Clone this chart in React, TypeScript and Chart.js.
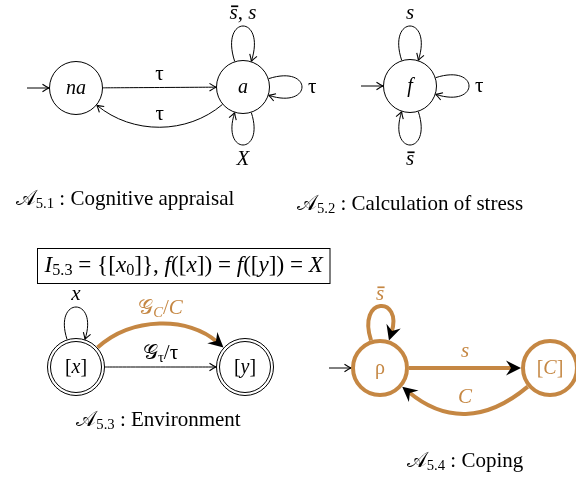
import React, { useEffect, useRef } from "react";
import { Chart, registerables } from "chart.js";
Chart.register(...registerables);

const W = 576;
const H = 479;
const ORANGE = "rgb(197,135,67)";
const FONT = '"Liberation Serif", "DejaVu Serif", serif';

// ---- nodes (diagram coordinates) ----
const nodeNames = ["na", "a", "f", "[x]", "[y]", "ρ", "[C]"];
const nodeX = [76, 243, 410, 76, 245, 380, 550];
const nodeY = [88, 87, 86, 367, 367, 368, 368];
const nodeText = ["*na*", "*a*", "*f*", "[*x*]", "[*y*]", "ρ", "[*C*]"];
const nodeKind = ["plain", "plain", "plain", "accepting", "accepting", "coping", "coping"];
const initialNodes = ["na", "f", "ρ"];

// ---- edges ----
const edgeFrom = ["na", "a", "a", "a", "a", "f", "f", "f", "[x]", "[x]", "[x]", "ρ", "ρ", "[C]"];
const edgeTo = ["a", "na", "a", "a", "a", "f", "f", "f", "[x]", "[y]", "[y]", "ρ", "[C]", "ρ"];
const edgeLabel = ["τ", "τ", "\\bar{s}, *s*", "τ", "*X*", "*s*", "τ", "\\bar{s}", "*x*", "𝒢_{τ}/τ", "𝒢_{*C*}/*C*", "\\bar{s}", "*s*", "*C*"];
const edgeShape = ["straight", "bend", "loop", "loop", "loop", "loop", "loop", "loop", "loop", "straight", "bend", "loop", "straight", "bend"];
const edgeAngle = [0, 40, 90, 0, -90, 90, 0, -90, 90, 0, 42, 90, 0, 40];
const edgeLoose = [0, 0.37, 34, 32, 31, 33, 32, 32, 31, 0, 0.37, 32, 0, 0.44];
const edgeKind = ["thin", "thin", "thin", "thin", "thin", "thin", "thin", "thin", "thin", "thin", "coping", "coping", "coping", "coping"];

// ---- texts ----
const boxText = "*I*_{5.3} = {[*x*_{0}]}, *f*([*x*]) = *f*([*y*]) = *X*";
const captionText = [
  "𝒜_{5.1} : Cognitive appraisal",
  "𝒜_{5.2} : Calculation of stress",
  "𝒜_{5.3} : Environment",
  "𝒜_{5.4} : Coping",
];
const captionX = [125, 410, 158.5, 465];
const captionY = [199, 204, 420, 461];
const boxRect = [37.5, 248.5, 330, 283.5];

const LOOP_SPREAD = 18;
const LABEL_SIZE = 21;
const NODE_SIZE = 20;
const CAPTION_SIZE = 21;

type Run = { text: string; italic: boolean; sub: boolean; bar: boolean };
function parseRich(s: string): Run[] {
  const runs: Run[] = [];
  let italic = false, sub = false, buf = "";
  const flush = () => { if (buf) { runs.push({ text: buf, italic, sub, bar: false }); buf = ""; } };
  for (let i = 0; i < s.length;) {
    if (s.startsWith("\\bar{", i)) {
      flush();
      const end = s.indexOf("}", i);
      runs.push({ text: s.slice(i + 5, end), italic: true, sub, bar: true });
      i = end + 1;
      continue;
    }
    const ch = s[i];
    if (ch === "*") { flush(); italic = !italic; i++; continue; }
    if (ch === "_" && s[i + 1] === "{") { flush(); sub = true; i += 2; continue; }
    if (ch === "}" && sub) { flush(); sub = false; i++; continue; }
    const c = String.fromCodePoint(s.codePointAt(i)!);
    buf += c;
    i += c.length;
  }
  flush();
  return runs;
}

function runFont(r: Run, size: number) {
  const sz = r.sub ? size * 0.7 : size;
  return `${r.italic ? "italic " : ""}${sz}px ${FONT}`;
}

function richWidth(ctx: CanvasRenderingContext2D, s: string, size: number) {
  let w = 0;
  for (const r of parseRich(s)) { ctx.font = runFont(r, size); w += ctx.measureText(r.text).width; }
  return w;
}

function drawRich(ctx: CanvasRenderingContext2D, s: string, x: number, y: number, size: number, color: string, align: "center" | "left" = "center", fitWidth = 0) {
  const runs = parseRich(s);
  if (fitWidth > 0) size = size * fitWidth / richWidth(ctx, s, size);
  const w = richWidth(ctx, s, size);
  let cx = align === "center" ? x - w / 2 : x;
  const base = y + size * 0.3;
  ctx.save();
  ctx.fillStyle = color;
  ctx.strokeStyle = color;
  ctx.textAlign = "left";
  ctx.textBaseline = "alphabetic";
  for (const r of runs) {
    ctx.font = runFont(r, size);
    const rw = ctx.measureText(r.text).width;
    const by = r.sub ? base + size * 0.15 : base;
    ctx.fillText(r.text, cx, by);
    if (r.bar) {
      ctx.lineWidth = 1.7;
      ctx.beginPath();
      ctx.moveTo(cx + 1.5, by - size * 0.62);
      ctx.lineTo(cx + rw + 0.5, by - size * 0.62);
      ctx.stroke();
    }
    cx += rw;
  }
  ctx.restore();
}

const dir = (deg: number) => [Math.cos((deg * Math.PI) / 180), -Math.sin((deg * Math.PI) / 180)];
const boundR = (k: string) => (k === "accepting" ? 29 : k === "coping" ? 29 : 27);

function bez(p: number[][], t: number) {
  const m = 1 - t;
  const a = m * m * m, b = 3 * m * m * t, c = 3 * m * t * t, d = t * t * t;
  return [a * p[0][0] + b * p[1][0] + c * p[2][0] + d * p[3][0], a * p[0][1] + b * p[1][1] + c * p[2][1] + d * p[3][1]];
}

function toArrow(ctx: CanvasRenderingContext2D, tip: number[], u: number[]) {
  const n = [-u[1], u[0]];
  const L = 6.5, Wd = 3.8;
  ctx.save();
  ctx.strokeStyle = "#000";
  ctx.lineWidth = 1.1;
  ctx.beginPath();
  for (const s of [1, -1]) {
    ctx.moveTo(tip[0] - L * u[0] + s * Wd * n[0], tip[1] - L * u[1] + s * Wd * n[1]);
    ctx.quadraticCurveTo(tip[0] - 2 * u[0] + s * 0.8 * n[0], tip[1] - 2 * u[1] + s * 0.8 * n[1], tip[0], tip[1]);
  }
  ctx.stroke();
  ctx.restore();
}

function stealth(ctx: CanvasRenderingContext2D, tip: number[], u: number[]) {
  const n = [-u[1], u[0]];
  const L = 15, Wd = 7.5, notch = 10;
  ctx.save();
  ctx.fillStyle = "#000";
  ctx.beginPath();
  ctx.moveTo(tip[0], tip[1]);
  ctx.lineTo(tip[0] - L * u[0] + Wd * n[0], tip[1] - L * u[1] + Wd * n[1]);
  ctx.lineTo(tip[0] - notch * u[0], tip[1] - notch * u[1]);
  ctx.lineTo(tip[0] - L * u[0] - Wd * n[0], tip[1] - L * u[1] - Wd * n[1]);
  ctx.closePath();
  ctx.fill();
  ctx.restore();
}

const diagramPlugin = {
  id: "automata",
  afterDatasetsDraw(chart: any) {
    const ctx: CanvasRenderingContext2D = chart.ctx;
    const sx = chart.scales.x, sy = chart.scales.y;
    const P = (i: number) => [sx.getPixelForValue(nodeX[i]), sy.getPixelForValue(nodeY[i])];

    // inner circles of accepting states
    nodeKind.forEach((k, i) => {
      if (k !== "accepting") return;
      const [cx, cy] = P(i);
      ctx.save();
      ctx.strokeStyle = "#000";
      ctx.lineWidth = 1;
      ctx.beginPath();
      ctx.arc(cx, cy, 25.5, 0, Math.PI * 2);
      ctx.stroke();
      ctx.restore();
    });

    // initial arrows
    initialNodes.forEach((name) => {
      const i = nodeNames.indexOf(name);
      const [cx, cy] = P(i);
      const R = boundR(nodeKind[i]);
      ctx.save();
      ctx.strokeStyle = "#000";
      ctx.lineWidth = 1;
      ctx.beginPath();
      ctx.moveTo(cx - R - 22, cy);
      ctx.lineTo(cx - R, cy);
      ctx.stroke();
      ctx.restore();
      toArrow(ctx, [cx - R, cy], [1, 0]);
    });

    // edges
    edgeFrom.forEach((from, e) => {
      const i = nodeNames.indexOf(from), j = nodeNames.indexOf(edgeTo[e]);
      const ci = P(i), cj = P(j);
      const Ri = boundR(nodeKind[i]), Rj = boundR(nodeKind[j]);
      const shape = edgeShape[e];
      let pts: number[][];
      if (shape === "loop") {
        const phi = edgeAngle[e];
        const sp = LOOP_SPREAD;
        const o = dir(phi + sp), n = dir(phi - sp);
        const p0 = [ci[0] + Ri * o[0], ci[1] + Ri * o[1]];
        const p3 = [ci[0] + Ri * n[0], ci[1] + Ri * n[1]];
        const cs = Math.cos((sp * Math.PI) / 180);
        const L = (edgeLoose[e] + Ri * (1 - cs)) / (0.75 * cs);
        pts = [p0, [p0[0] + L * o[0], p0[1] + L * o[1]], [p3[0] + L * n[0], p3[1] + L * n[1]], p3];
      } else {
        const th = (Math.atan2(-(cj[1] - ci[1]), cj[0] - ci[0]) * 180) / Math.PI;
        const b = shape === "bend" ? edgeAngle[e] : 0;
        const o = dir(th + b), n = dir(th + 180 - b);
        const p0 = [ci[0] + Ri * o[0], ci[1] + Ri * o[1]];
        const p3 = [cj[0] + Rj * n[0], cj[1] + Rj * n[1]];
        const d = Math.hypot(p3[0] - p0[0], p3[1] - p0[1]);
        const k = shape === "bend" ? edgeLoose[e] : 0;
        pts = [p0, [p0[0] + k * d * o[0], p0[1] + k * d * o[1]], [p3[0] + k * d * n[0], p3[1] + k * d * n[1]], p3];
      }
      const thick = edgeKind[e] === "coping";
      let tx = pts[3][0] - pts[2][0], ty = pts[3][1] - pts[2][1];
      if (Math.hypot(tx, ty) < 1e-6) { tx = pts[3][0] - pts[0][0]; ty = pts[3][1] - pts[0][1]; }
      const len = Math.hypot(tx, ty);
      const u = [tx / len, ty / len];

      ctx.save();
      ctx.strokeStyle = thick ? ORANGE : "#000";
      ctx.lineWidth = thick ? 4 : 1;
      ctx.beginPath();
      ctx.moveTo(pts[0][0], pts[0][1]);
      const end = thick ? [pts[3][0] - 8 * u[0], pts[3][1] - 8 * u[1]] : pts[3];
      ctx.bezierCurveTo(pts[1][0], pts[1][1], pts[2][0], pts[2][1], end[0], end[1]);
      ctx.stroke();
      ctx.restore();
      if (thick) stealth(ctx, pts[3], u); else toArrow(ctx, pts[3], u);

      // label
      const mid = bez(pts, 0.5);
      const color = thick ? ORANGE : "#000";
      if (shape === "loop") {
        const phi = edgeAngle[e];
        if (phi === 90) drawRich(ctx, edgeLabel[e], mid[0], mid[1] - 13, LABEL_SIZE, color);
        else if (phi === -90) drawRich(ctx, edgeLabel[e], mid[0], mid[1] + 14, LABEL_SIZE, color);
        else drawRich(ctx, edgeLabel[e], mid[0] + 6, mid[1], LABEL_SIZE, color, "left");
      } else {
        drawRich(ctx, edgeLabel[e], mid[0], mid[1] - (thick ? 17 : 14), LABEL_SIZE, color);
      }
    });

    // node labels
    nodeText.forEach((t, i) => {
      const [cx, cy] = P(i);
      drawRich(ctx, t, cx, cy, NODE_SIZE, nodeKind[i] === "coping" ? ORANGE : "#000");
    });

    // formula box
    const [x0, y0, x1, y1] = boxRect;
    const bx0 = sx.getPixelForValue(x0), by0 = sy.getPixelForValue(y0);
    const bx1 = sx.getPixelForValue(x1), by1 = sy.getPixelForValue(y1);
    ctx.save();
    ctx.strokeStyle = "#000";
    ctx.lineWidth = 1;
    ctx.strokeRect(bx0, by0, bx1 - bx0, by1 - by0);
    ctx.restore();
    drawRich(ctx, boxText, (bx0 + bx1) / 2, (by0 + by1) / 2 - 1, 20, "#000", "center", bx1 - bx0 - 14);

    // captions
    captionText.forEach((t, i) => {
      drawRich(ctx, t, sx.getPixelForValue(captionX[i]), sy.getPixelForValue(captionY[i]), CAPTION_SIZE, "#000");
    });
  },
};

export default function App() {
  const ref = useRef<HTMLCanvasElement>(null);
  useEffect(() => {
    if (!ref.current) return;
    const radius = nodeKind.map((k) => (k === "accepting" ? 28.5 : k === "coping" ? 27 : 26.5));
    const chart = new Chart(ref.current, {
      type: "scatter",
      data: {
        datasets: [
          {
            data: nodeX.map((x, i) => ({ x, y: nodeY[i] })),
            pointRadius: radius,
            pointHoverRadius: radius,
            pointBorderWidth: nodeKind.map((k) => (k === "coping" ? 4 : 1)),
            pointBorderColor: nodeKind.map((k) => (k === "coping" ? ORANGE : "#000")),
            pointBackgroundColor: "#fff",
            showLine: false,
            clip: false as any,
          },
        ],
      },
      options: {
        responsive: false,
        animation: false,
        events: [],
        layout: { padding: 0, autoPadding: false },
        scales: {
          x: { type: "linear", min: 0, max: W, display: false },
          y: { type: "linear", min: 0, max: H, reverse: true, display: false },
        },
        plugins: { legend: { display: false }, tooltip: { enabled: false } },
      },
      plugins: [diagramPlugin],
    });
    return () => chart.destroy();
  }, []);
  return (
    <div style={{ position: "absolute", left: 0, top: 0, width: W, height: H, background: "#fff" }}>
      <canvas ref={ref} width={W} height={H} style={{ display: "block" }} />
    </div>
  );
}
